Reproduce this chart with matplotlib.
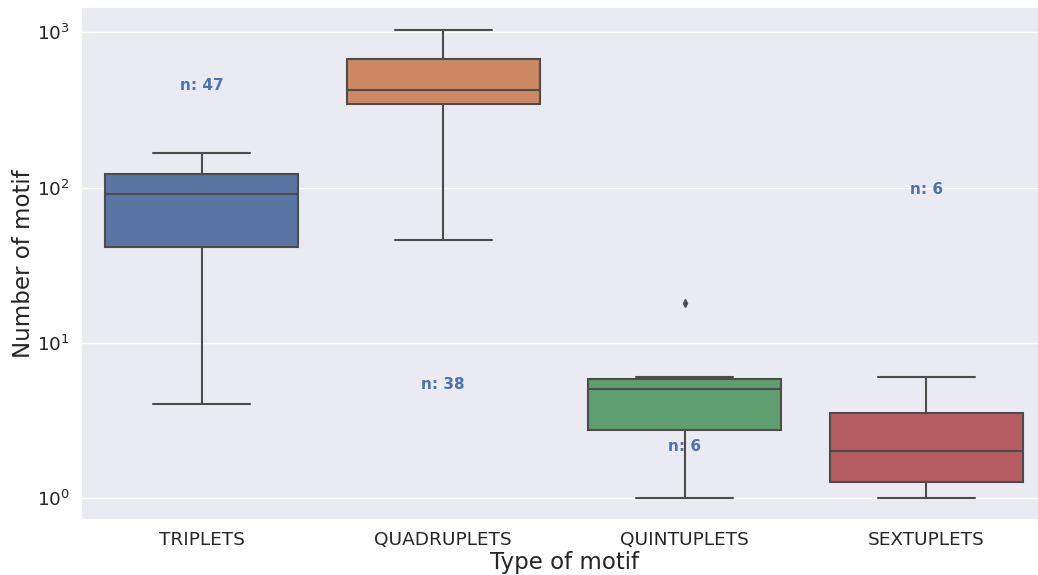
import matplotlib
matplotlib.use("Agg")
import matplotlib.pyplot as plt
import seaborn as sns
import colorsys

categories = ["TRIPLETS", "QUADRUPLETS", "QUINTUPLETS", "SEXTUPLETS"]
medians = [91, 425, 5.0, 2.0]
q1 = [41.5, 345, 2.74, 1.26]
q3 = [122, 677, 5.8, 3.5]
whislo = [4, 46, 1, 1]
whishi = [166, 1036, 6, 6]
fliers = [[], [], [18], []]
n_labels = ["n: 47", "n: 38", "n: 6", "n: 6"]
# y positions at which the n labels were drawn (medians taken in another order)
n_label_y = [425, 5.0, 2.0, 91]

sns.set_theme(style="darkgrid")

W, H = 1038, 575
fig = plt.figure(figsize=(W / 100, H / 100), dpi=100)
ax = fig.add_axes([81 / W, (H - 520) / H, (1047 - 81) / W, (520 - 7) / H])

base = sns.color_palette("deep", len(categories))
colors = [sns.desaturate(c, 0.75) for c in base]
lum = min(colorsys.rgb_to_hls(*c)[1] for c in colors) * 0.6
gray = (lum, lum, lum)

stats = []
for i, cat in enumerate(categories):
    stats.append(dict(med=medians[i], q1=q1[i], q3=q3[i], whislo=whislo[i],
                      whishi=whishi[i], fliers=fliers[i], label=cat))

lw = 1.5
bp = ax.bxp(stats, positions=range(len(categories)), widths=0.8,
            patch_artist=True, manage_ticks=False,
            boxprops=dict(edgecolor=gray, linewidth=lw),
            medianprops=dict(color=gray, linewidth=lw),
            whiskerprops=dict(color=gray, linewidth=lw),
            capprops=dict(color=gray, linewidth=lw),
            flierprops=dict(marker="d", markerfacecolor=gray, markeredgecolor=gray,
                            markersize=4, linestyle="none"))
for patch, c in zip(bp["boxes"], colors):
    patch.set_facecolor(c)

ax.set_yscale("log")
ax.set_xlim(-0.5, len(categories) - 0.5)
ax.set_ylim(0.718, 1459)
ax.set_xticks(range(len(categories)))
ax.set_xticklabels(categories, fontsize=13.3)
ax.tick_params(axis="y", labelsize=13.3, pad=2)
ax.tick_params(axis="x", pad=2)
ax.minorticks_off()
ax.xaxis.grid(False)
ax.set_xlabel("Type of motif", fontsize=16.5, labelpad=1)
ax.set_ylabel("Number of motif", fontsize=16.5, labelpad=1)

blue = sns.color_palette("deep")[0]
for i, (lab, yv) in enumerate(zip(n_labels, n_label_y)):
    ax.text(i, yv, lab, ha="center", va="baseline", color=blue,
            fontsize=11, fontweight="bold")

fig.savefig("out.png", dpi=100)
